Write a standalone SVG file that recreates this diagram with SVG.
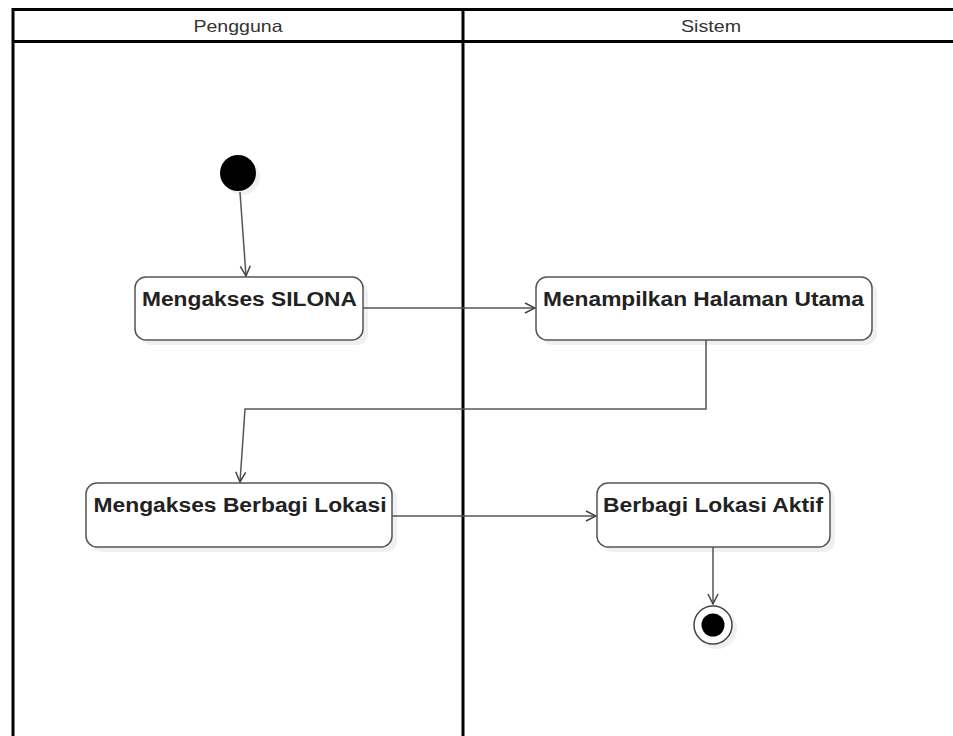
<svg xmlns="http://www.w3.org/2000/svg" width="953" height="736" viewBox="0 0 953 736">
<defs>
<style>
.lane{fill:none;stroke:#000;stroke-width:3}
.hdr{font-family:"Liberation Sans",Arial,sans-serif;font-size:16.5px;fill:#333;text-anchor:middle}
.box{fill:#fff;stroke:#555;stroke-width:1.5}
.shadow{fill:#000;opacity:0.06}
.lbl{font-family:"Liberation Sans",Arial,sans-serif;font-size:20px;font-weight:bold;fill:#222;text-anchor:middle}
.edge{fill:none;stroke:#555;stroke-width:1.5}
</style>
<marker id="arr" viewBox="0 0 12 12" refX="11" refY="6" markerWidth="12" markerHeight="12" markerUnits="userSpaceOnUse" orient="auto">
<path d="M1,1 L11,6 L1,11" fill="none" stroke="#444" stroke-width="1.5"/>
</marker>
</defs>
<rect width="953" height="736" fill="#fff"/>
<g id="swimlanes">
<path class="lane" d="M953,9.5 H13 V736"/>
<path class="lane" d="M13,41.5 H953"/>
<path class="lane" d="M463,9 V736"/>
<text class="hdr" x="238" y="32" textLength="89" lengthAdjust="spacingAndGlyphs">Pengguna</text>
<text class="hdr" x="711" y="32" textLength="60" lengthAdjust="spacingAndGlyphs">Sistem</text>
</g>
<g id="start">
<circle cx="242" cy="177" r="18" class="shadow"/>
<circle cx="238" cy="173" r="18" fill="#000"/>
</g>
<g id="n1">
<rect class="shadow" x="140" y="282" width="228" height="63" rx="11"/>
<rect class="box" x="135" y="277" width="228" height="63" rx="11"/>
<text class="lbl" x="249.5" y="306" textLength="215" lengthAdjust="spacingAndGlyphs">Mengakses SILONA</text>
</g>
<g id="n2">
<rect class="shadow" x="541" y="282" width="336" height="63" rx="11"/>
<rect class="box" x="536" y="277" width="336" height="63" rx="11"/>
<text class="lbl" x="703.5" y="306" textLength="321" lengthAdjust="spacingAndGlyphs">Menampilkan Halaman Utama</text>
</g>
<g id="n3">
<rect class="shadow" x="91" y="488" width="306" height="64" rx="11"/>
<rect class="box" x="86" y="483" width="306" height="64" rx="11"/>
<text class="lbl" x="240" y="512" textLength="293" lengthAdjust="spacingAndGlyphs">Mengakses Berbagi Lokasi</text>
</g>
<g id="n4">
<rect class="shadow" x="602" y="488" width="233" height="64" rx="11"/>
<rect class="box" x="597" y="483" width="233" height="64" rx="11"/>
<text class="lbl" x="713" y="512" textLength="220" lengthAdjust="spacingAndGlyphs">Berbagi Lokasi Aktif</text>
</g>
<g id="end">
<circle cx="717" cy="629" r="20" class="shadow"/>
<circle cx="713" cy="625" r="19" fill="#fff" stroke="#444" stroke-width="1.5"/>
<circle cx="713" cy="625" r="11.5" fill="#000"/>
</g>
<g id="connectors">
<path class="edge" d="M240,192 L246,276" marker-end="url(#arr)"/>
<path class="edge" d="M363,308 H535" marker-end="url(#arr)"/>
<path class="edge" d="M706,340 V409 H245 L240,482" marker-end="url(#arr)"/>
<path class="edge" d="M392,516 H596" marker-end="url(#arr)"/>
<path class="edge" d="M713,547 V604" marker-end="url(#arr)"/>
</g>
</svg>
